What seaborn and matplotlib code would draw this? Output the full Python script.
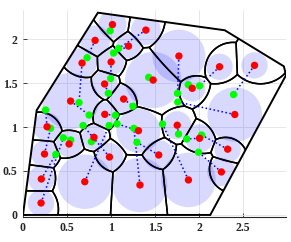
import numpy as np
import matplotlib
matplotlib.use("Agg")
import matplotlib.pyplot as plt
from matplotlib.patches import Polygon, Circle
import seaborn as sns

# region boundary (data units)
bound_x = [0.0, 0.155, 0.85, 2.29, 2.96, 2.985, 2.125]
bound_y = [0.0, 1.19, 2.30, 2.10, 1.69, 1.59, 0.0]

# agent positions (red) and their sensing radii
red_x = [1.015, 1.394, 0.818, 1.197, 0.670, 1.000, 0.926, 0.540, 1.142, 0.928,
         1.769, 2.230, 2.627, 1.477, 1.920, 2.403, 0.273, 0.523, 0.244, 0.208,
         0.205, 0.701, 0.805, 0.981, 1.310, 1.327, 1.750, 2.003, 2.322, 2.251,
         1.540, 1.877]
red_y = [2.165, 2.102, 1.985, 1.920, 1.727, 1.739, 1.489, 1.295, 1.318, 1.144,
         1.807, 1.685, 1.701, 1.534, 1.440, 1.142, 1.003, 0.807, 0.693, 0.409,
         0.136, 0.378, 0.883, 0.659, 0.958, 0.341, 1.020, 0.872, 0.748, 0.489,
         0.682, 0.398]
radius = [0.16, 0.17, 0.17, 0.14, 0.17, 0.15, 0.15, 0.32, 0.16, 0.14,
          0.30, 0.15, 0.15, 0.32, 0.15, 0.31, 0.16, 0.15, 0.15, 0.15,
          0.15, 0.31, 0.14, 0.16, 0.25, 0.31, 0.16, 0.16, 0.15, 0.16,
          0.17, 0.31]

# assigned targets (green), same order as the agents
green_x = [0.989, 1.085, 0.727, 1.028, 0.636, 0.994, 0.968, 0.750, 1.248, 1.049,
           1.753, 2.003, 2.389, 1.426, 1.875, 1.756, 0.256, 0.542, 0.313, 0.372,
           0.458, 0.977, 0.776, 0.682, 1.068, 1.258, 1.765, 1.858, 2.026, 1.991,
           1.293, 1.583]
green_y = [2.094, 1.894, 1.788, 1.841, 1.278, 1.551, 1.384, 1.136, 1.236, 1.134,
           1.383, 1.468, 1.369, 1.565, 1.481, 1.284, 1.193, 0.852, 0.986, 0.688,
           0.877, 1.017, 0.833, 1.017, 1.036, 0.985, 0.920, 0.864, 0.909, 0.713,
           0.826, 1.034]

sns.set_theme(style="whitegrid")
plt.rcParams['font.family'] = ['Liberation Serif', 'DejaVu Serif']

fig = plt.figure(figsize=(2.91, 2.42), dpi=100)
ax = fig.add_axes([0.079, 0.1045, 0.904, 0.854])

border = Polygon(np.column_stack([bound_x, bound_y]), closed=True, fill=False,
                 ec='black', lw=1.4, zorder=4)
ax.add_patch(border)

# sensing circles
for cx, cy, r in zip(red_x, red_y, radius):
    c = Circle((cx, cy), r, fc=(0, 0, 1, 0.15), ec='none', zorder=1)
    ax.add_patch(c)
    c.set_clip_path(border)

# multiplicatively weighted voronoi cells
rx = np.array(red_x, dtype=np.float32)
ry = np.array(red_y, dtype=np.float32)
rw = np.array(radius, dtype=np.float32)
gx = np.linspace(0, 3.0, 700, dtype=np.float32)
gy = np.linspace(0, 2.35, 550, dtype=np.float32)
X, Y = np.meshgrid(gx, gy)
D = np.sqrt((X[None] - rx[:, None, None]) ** 2 + (Y[None] - ry[:, None, None]) ** 2) / rw[:, None, None]
part = np.partition(D, 1, axis=0)
m1, m2 = part[0], part[1]
for i in range(len(red_x)):
    other = np.where(D[i] == m1, m2, m1)
    cs = ax.contour(X, Y, other - D[i], levels=[0], colors='black',
                    linewidths=1.1, zorder=3)
    cs.set_clip_path(border)

# links agent -> target
for i in range(len(red_x)):
    ax.plot([red_x[i], green_x[i]], [red_y[i], green_y[i]], ls=':',
            color='blue', lw=1.1, zorder=5)

sns.scatterplot(x=green_x, y=green_y, color='#00ff00', s=28, edgecolor='none',
                zorder=6, ax=ax)
sns.scatterplot(x=red_x, y=red_y, color='#ff0000', s=28, edgecolor='none',
                zorder=7, ax=ax)

ax.set_xlim(0, 2.985)
ax.set_ylim(-0.02, 2.33)
ax.set_xticks([0, 0.5, 1, 1.5, 2, 2.5])
ax.set_xticklabels(['0', '0.5', '1', '1.5', '2', '2.5'], fontweight='bold')
ax.set_yticks([0, 0.5, 1, 1.5, 2])
ax.set_yticklabels(['0', '0.5', '1', '1.5', '2'], fontweight='bold')
ax.tick_params(left=True, bottom=True, direction='in', length=3, width=0.6,
               colors='#262626', labelsize=8.5, pad=4)
ax.grid(True, color='#e3e3e3', lw=0.6)
ax.set_axisbelow(True)
for s in ['left', 'top', 'right']:
    ax.spines[s].set_visible(False)
ax.spines['bottom'].set_color('#262626')
ax.spines['bottom'].set_linewidth(0.8)
ax.set_facecolor('white')

fig.savefig('out.png', dpi=100)
